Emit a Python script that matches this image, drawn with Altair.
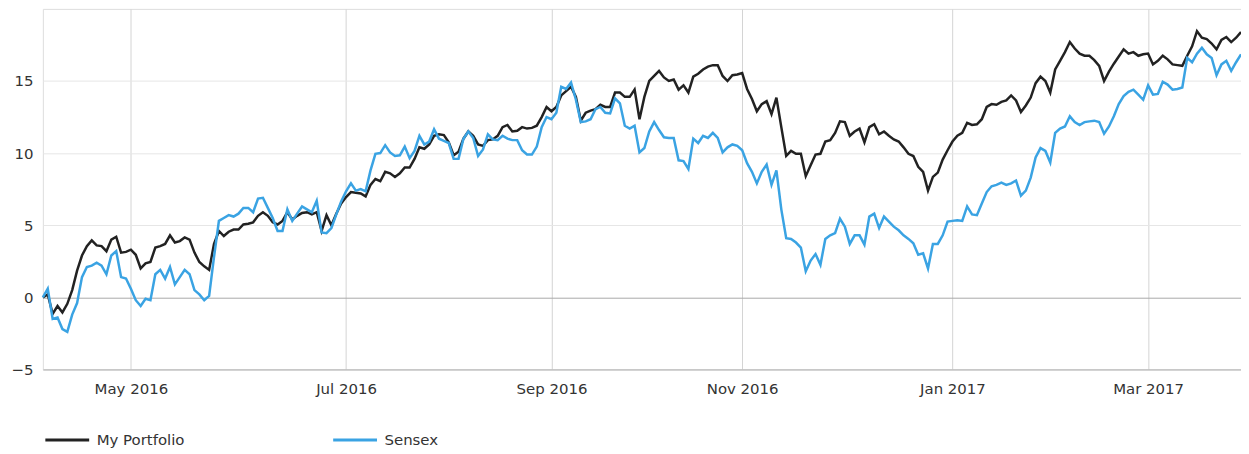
import pandas as pd
import altair as alt

# BSE trading calendar Apr 2016 - Mar 2017 (categories of the x axis)
holidays = ["2016-04-14", "2016-04-15", "2016-04-19", "2016-07-06", "2016-08-15",
            "2016-09-05", "2016-09-13", "2016-10-11", "2016-10-12", "2016-10-31",
            "2016-11-14", "2017-01-26", "2017-02-24", "2017-03-13"]
special_sessions = ["2016-10-30"]  # Muhurat trading
days = pd.bdate_range("2016-04-01", "2017-03-29")
days = days.drop(pd.to_datetime(holidays)).union(pd.to_datetime(special_sessions))
dates = [d.strftime("%Y-%m-%d") for d in days]

tick_dates = ["2016-05-02", "2016-07-01", "2016-09-01", "2016-11-01", "2017-01-02", "2017-03-01"]
y_ticks = [-5, 0, 5, 10, 15]
series_names = ["My Portfolio", "Sensex"]

portfolio = [
    0, 0.2, -1.15, -0.6, -1.05, -0.45, 0.5, 1.85, 2.9, 3.55,
    3.95, 3.6, 3.55, 3.2, 4.0, 4.2, 3.1, 3.15, 3.3, 2.95,
    2.0, 2.35, 2.45, 3.45, 3.55, 3.7, 4.3, 3.8, 3.9, 4.15,
    4.0, 3.1, 2.45, 2.15, 1.9, 3.7, 4.6, 4.25, 4.55, 4.7,
    4.7, 5.05, 5.1, 5.2, 5.65, 5.9, 5.65, 5.2, 5.05, 5.3,
    5.9, 5.4, 5.65, 5.85, 5.9, 5.75, 5.9, 4.6, 5.7, 5.0,
    5.8, 6.5, 6.95, 7.3, 7.25, 7.2, 7.0, 7.8, 8.2, 8.05,
    8.7, 8.6, 8.35, 8.6, 9.0, 9.0, 9.6, 10.4, 10.3, 10.6,
    11.2, 11.3, 11.25, 10.75, 9.85, 10.1, 11.0, 11.5, 11.2, 10.6,
    10.5, 10.9, 10.95, 11.2, 11.8, 11.95, 11.5, 11.55, 11.8, 11.7,
    11.75, 11.9, 12.5, 13.2, 12.9, 13.2, 14.0, 14.3, 14.6, 13.9,
    12.25, 12.8, 12.95, 13.05, 13.35, 13.2, 13.2, 14.2, 14.2, 13.9,
    13.9, 14.4, 12.35, 13.9, 15.0, 15.35, 15.7, 15.25, 15.0, 15.1,
    14.4, 14.7, 14.2, 15.3, 15.5, 15.8, 16.0, 16.1, 16.1, 15.35,
    15.0, 15.4, 15.45, 15.55, 14.45, 13.75, 12.9, 13.4, 13.6, 12.7,
    13.85, 11.8, 9.8, 10.15, 9.95, 9.95, 8.4, 9.15, 9.9, 9.95,
    10.8, 10.9, 11.4, 12.2, 12.15, 11.2, 11.5, 11.7, 10.75, 11.8,
    12.0, 11.3, 11.5, 11.2, 10.95, 10.8, 10.4, 9.95, 9.8, 9.05,
    8.7, 7.4, 8.35, 8.65, 9.55, 10.2, 10.8, 11.2, 11.4, 12.1,
    11.95, 12.0, 12.35, 13.2, 13.4, 13.35, 13.55, 13.65, 14.0, 13.65,
    12.85, 13.3, 13.85, 14.85, 15.3, 15.0, 14.2, 15.8, 16.4, 17.0,
    17.7, 17.25, 16.9, 16.75, 16.75, 16.45, 16.05, 15.0, 15.65, 16.2,
    16.7, 17.2, 16.9, 17.0, 16.75, 16.85, 16.9, 16.15, 16.4, 16.75,
    16.5, 16.15, 16.1, 16.05, 16.75, 17.4, 18.45, 18.0, 17.9, 17.6,
    17.2, 17.85, 18.05, 17.7, 18.0, 18.4,
]

sensex = [
    0, 0.6, -1.5, -1.4, -2.2, -2.4, -1.2, -0.4, 1.4, 2.1,
    2.2, 2.4, 2.2, 1.6, 2.9, 3.2, 1.4, 1.3, 0.6, -0.2,
    -0.6, -0.1, -0.2, 1.6, 1.9, 1.3, 2.1, 0.9, 1.4, 1.9,
    1.6, 0.5, 0.2, -0.2, 0.1, 2.8, 5.3, 5.5, 5.7, 5.6,
    5.8, 6.2, 6.2, 5.9, 6.85, 6.9, 6.2, 5.5, 4.6, 4.6,
    6.1, 5.3, 5.8, 6.3, 6.1, 5.9, 6.7, 4.5, 4.45, 4.8,
    5.75, 6.65, 7.35, 7.9, 7.4, 7.5, 7.35, 8.8, 9.95, 10.0,
    10.55, 10.05, 9.8, 9.85, 10.45, 9.65, 10.15, 11.2, 10.6, 10.8,
    11.65, 11.0, 10.85, 10.7, 9.6, 9.6, 11.0, 11.5, 11.05, 9.8,
    10.25, 11.3, 10.95, 10.9, 11.2, 11.0, 10.9, 10.9, 10.2, 9.9,
    9.9, 10.45, 11.8, 12.5, 12.35, 12.8, 14.6, 14.45, 14.9, 13.7,
    12.15, 12.2, 12.35, 13.05, 13.2, 12.8, 12.75, 13.8, 13.45, 11.9,
    11.7, 11.9, 10.05, 10.35, 11.5, 12.15, 11.6, 11.1, 11.05, 11.05,
    9.5, 9.45, 8.9, 11.0, 10.7, 11.2, 11.05, 11.4, 11.05, 10.05,
    10.4, 10.6, 10.5, 10.2, 9.3, 8.7, 7.9, 8.7, 9.2, 7.8,
    8.8, 6.1, 4.1, 4.05, 3.8, 3.45, 1.8, 2.55, 3.0, 2.25,
    4.05, 4.3, 4.45, 5.45, 4.9, 3.7, 4.3, 4.3, 3.65, 5.6,
    5.8, 4.8, 5.6, 5.25, 4.9, 4.65, 4.3, 4.05, 3.75, 2.95,
    3.05, 2.0, 3.7, 3.7, 4.3, 5.25, 5.3, 5.35, 5.3, 6.3,
    5.75, 5.7, 6.5, 7.3, 7.7, 7.8, 7.95, 7.8, 7.9, 8.1,
    7.05, 7.4, 8.3, 9.7, 10.35, 10.15, 9.35, 11.4, 11.7, 11.85,
    12.55, 12.15, 11.95, 12.15, 12.2, 12.25, 12.15, 11.35, 11.85, 12.55,
    13.4, 13.95, 14.25, 14.4, 14.05, 13.7, 14.7, 14.05, 14.1, 14.95,
    14.75, 14.4, 14.45, 14.55, 16.6, 16.3, 16.9, 17.3, 16.85, 16.6,
    15.4, 16.15, 16.4, 15.7, 16.3, 16.85,
]

n = len(dates)
df = pd.DataFrame({
    "date": dates + dates,
    "series": [series_names[0]] * n + [series_names[1]] * n,
    "value": portfolio[:n] + sensex[:n],
})

FONT = "DejaVu Sans"

chart = alt.Chart(df).mark_line(strokeWidth=2.5).encode(
    x=alt.X(
        "date:O",
        sort=dates,
        scale=alt.Scale(type="point", padding=0),
        axis=alt.Axis(
            values=tick_dates,
            labelExpr="utcFormat(toDate(datum.value), '%b %Y')",
            labelAngle=0,
            title=None,
            grid=True,
            gridColor="#d4d4d4",
            ticks=False,
            domain=True,
            domainColor="#b0b0b0",
            labelPadding=12,
            labelFontSize=15,
            labelFont=FONT,
            labelColor="#333333",
        ),
    ),
    y=alt.Y(
        "value:Q",
        scale=alt.Scale(domain=[-5, 20], nice=False, zero=False),
        axis=alt.Axis(
            values=y_ticks,
            title=None,
            grid=True,
            gridColor={"condition": {"test": "datum.value === 0", "value": "#a8a8a8"},
                       "value": "#e6e6e6"},
            ticks=False,
            domain=False,
            labelPadding=10,
            labelFontSize=15,
            labelFont=FONT,
            labelColor="#333333",
        ),
    ),
    color=alt.Color(
        "series:N",
        scale=alt.Scale(domain=series_names, range=["#222222", "#3aa3e3"]),
        legend=alt.Legend(
            orient="none",
            legendX=1,
            legendY=409,
            direction="horizontal",
            title=None,
            symbolType="stroke",
            symbolSize=1936,
            symbolStrokeWidth=3,
            labelOffset=6,
            columnPadding=142,
            labelFontSize=15,
            labelFont=FONT,
            labelColor="#333333",
            padding=0,
        ),
    ),
).properties(
    width=1203,
    height=362,
    padding={"left": 35, "top": 0, "right": 0, "bottom": 78},
    autosize=alt.AutoSizeParams(type="none"),
).configure_view(
    stroke="#cccccc",
    strokeWidth=1,
).configure(background="white")

chart.save("out.html", embed_options={"renderer": "svg", "actions": False})
